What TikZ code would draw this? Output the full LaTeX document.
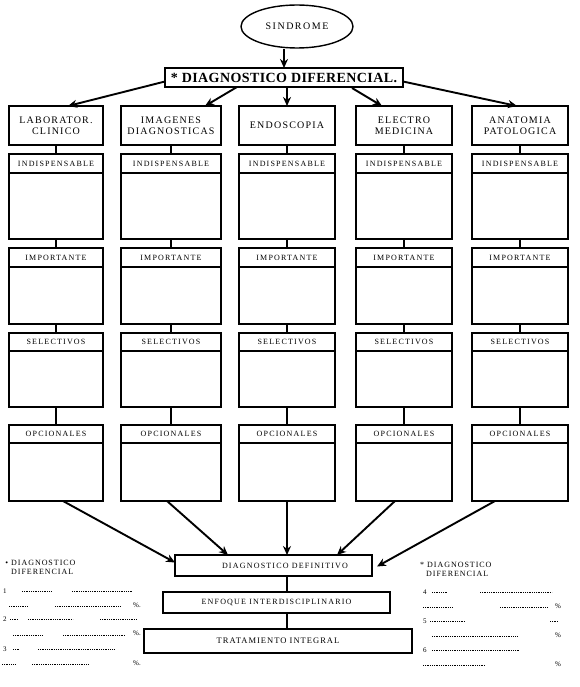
\documentclass[tikz,border=0pt]{standalone}
\usepackage{fontspec}
\setmainfont{Liberation Serif}
\newfontfamily\spA[LetterSpace=12]{Liberation Serif}
\newfontfamily\spB[LetterSpace=15]{Liberation Serif}
\newfontfamily\spT[LetterSpace=3]{Liberation Serif Bold}
\usetikzlibrary{arrows.meta,calc,shapes.geometric}
\begin{document}
\begin{tikzpicture}[x=1pt,y=-1pt,
  box/.style={draw, line width=1.4pt, inner sep=0pt, outer sep=0pt},
  sepline/.style={line width=1.2pt},
  conn/.style={line width=2.3pt},
  arr/.style={line width=1.9pt, -{Stealth[length=9pt,width=8pt]}},
  colhead/.style={font=\fontsize{10}{11}\selectfont\spA, align=center},
  rowhead/.style={font=\fontsize{8}{9}\selectfont\spB, inner sep=0pt},
  bothead/.style={font=\fontsize{8}{9}\selectfont\spB, inner sep=0pt},
  sidetxt/.style={font=\fontsize{8}{9}\selectfont\spA, inner sep=0pt, anchor=base west},
  smalltxt/.style={font=\fontsize{7}{8}\selectfont, inner sep=0pt, anchor=base west},
  blank/.style={line width=0.7pt, dash pattern=on 0.7pt off 1.1pt},
]
\fill[white] (0,0) rectangle (579,687);
\useasboundingbox (0,0) rectangle (579,687);

% top
\node[ellipse, draw, line width=1.4pt, minimum width=112, minimum height=43, inner sep=0pt,
      font=\fontsize{10}{11}\selectfont\spB] (sin) at (297,26.5) {SINDROME};
\node[box, minimum width=238, minimum height=19,
      font=\fontsize{14}{15}\selectfont\spT] (dd) at (284,77.5) {* DIAGNOSTICO DIFERENCIAL.};
\draw[arr] (sin.south -| dd.north) -- (dd.north);

% columns
\foreach \i/\l/\r/\txt in {1/9/103/{LABORATOR.\\CLINICO}, 2/121/221/{IMAGENES\\DIAGNOSTICAS},
    3/239/335/{ENDOSCOPIA}, 4/356/452/{ELECTRO\\MEDICINA}, 5/472/568/{ANATOMIA\\PATOLOGICA}} {
  \pgfmathsetmacro\c{(\l+\r)/2}
  \pgfmathsetmacro\w{\r-\l}
  \node[box, colhead, minimum width=\w, minimum height=39] (h\i) at (\c,125.5) {\txt};
  \foreach \k/\yt/\yb/\ys/\lab in {a/154/239/173/INDISPENSABLE, b/248/324/267/IMPORTANTE,
      c/333/407/351/SELECTIVOS, d/425/501/443/OPCIONALES} {
    \pgfmathsetmacro\hh{\yb-\yt}
    \pgfmathsetmacro\cy{(\yt+\yb)/2}
    \pgfmathsetmacro\ly{(\yt+\ys)/2}
    \node[box, minimum width=\w, minimum height=\hh] (\k\i) at (\c,\cy) {};
    \draw[sepline] (\l,\ys) -- (\r,\ys);
    \node[rowhead] (\k\i lab) at (\c,\ly) {\lab};
  }
  \draw[conn] (h\i.south) -- (a\i.north);
  \draw[conn] (a\i.south) -- (b\i.north);
  \draw[conn] (b\i.south) -- (c\i.north);
  \draw[conn] (c\i.south) -- (d\i.north);
}

% arrows to headers
\draw[arr] ($(dd.west)+(0,4)$) -- ($(h1.north)+(12,0)$);
\draw[arr] ($(dd.south west)+(72,0)$) -- ($(h2.north)+(34,0)$);
\draw[arr] (dd.south -| h3.north) -- (h3.north);
\draw[arr] ($(dd.south west)+(187,1)$) -- ($(h4.north)+(-22,0)$);
\draw[arr] ($(dd.east)+(0,4)$) -- ($(h5.north)+(-3,0)$);

% bottom boxes
\node[box, minimum width=197, minimum height=21] (def) at (273.5,565.5) {};
\node[bothead] (deflab) at (285,565.5) {DIAGNOSTICO DEFINITIVO};
\node[box, bothead, minimum width=227, minimum height=21] (enf) at (276.5,602.5) {ENFOQUE INTERDISCIPLINARIO};
\node[box, minimum width=268, minimum height=24, inner sep=0pt,
      font=\fontsize{8.5}{9}\selectfont\spA] (tra) at (278,641) {TRATAMIENTO INTEGRAL};

\draw[arr] ($(d1.south)+(7,0)$) -- ($(def.west)+(0,-3)$);
\draw[arr] ($(d2.south)+(-4,0)$) -- ($(def.north west)+(53,0)$);
\draw[arr] (d3.south) -- (d3.south |- def.north);
\draw[arr] ($(d4.south)+(-9,0)$) -- ($(def.north east)+(-35,0)$);
\draw[arr] ($(d5.south)+(-25,0)$) -- ($(def.east)+(5,1)$);
\draw[conn] (def.south -| d3.south) -- (enf.north -| d3.south);
\draw[conn] (enf.south -| d3.south) -- (tra.north -| d3.south);

% left side
\node[sidetxt] (l1) at (11,565) {\llap{\textbullet\ }DIAGNOSTICO};
\node[sidetxt] (l2) at (11,574) {DIFERENCIAL};
\node[smalltxt] (n1) at (3,593) {1};
\node[smalltxt] (n2) at (3,621) {2};
\node[smalltxt] (n3) at (3,651) {3};
\node[smalltxt] (p1) at (133,607) {\%.};
\node[smalltxt] (p2) at (133,635) {\%.};
\node[smalltxt] (p3) at (133,665) {\%.};
\foreach \y/\a/\b in {591/22/52, 591/72/133, 606/9/28, 606/55/120, 619/10/18, 619/28/73, 619/100/137,
    635/13/43, 635/63/125, 649/13/20, 649/38/115, 664/2/15, 664/32/88}
  \draw[blank] (\a,\y) -- (\b,\y);

% right side
\node[sidetxt] (r1) at (427,567) {\llap{* }DIAGNOSTICO};
\node[sidetxt] (r2) at (426,576) {DIFERENCIAL};
\node[smalltxt] (m1) at (423,594) {4};
\node[smalltxt] (m2) at (423,623) {5};
\node[smalltxt] (m3) at (423,652) {6};
\node[smalltxt] (q1) at (555,608) {\%};
\node[smalltxt] (q2) at (555,637) {\%};
\node[smalltxt] (q3) at (555,666) {\%};
\foreach \y/\a/\b in {592/432/447, 592/480/552, 607/423/453, 607/500/547, 621/430/465, 621/550/558,
    636/432/517, 650/432/520, 665/423/485}
  \draw[blank] (\a,\y) -- (\b,\y);
\end{tikzpicture}
\end{document}
